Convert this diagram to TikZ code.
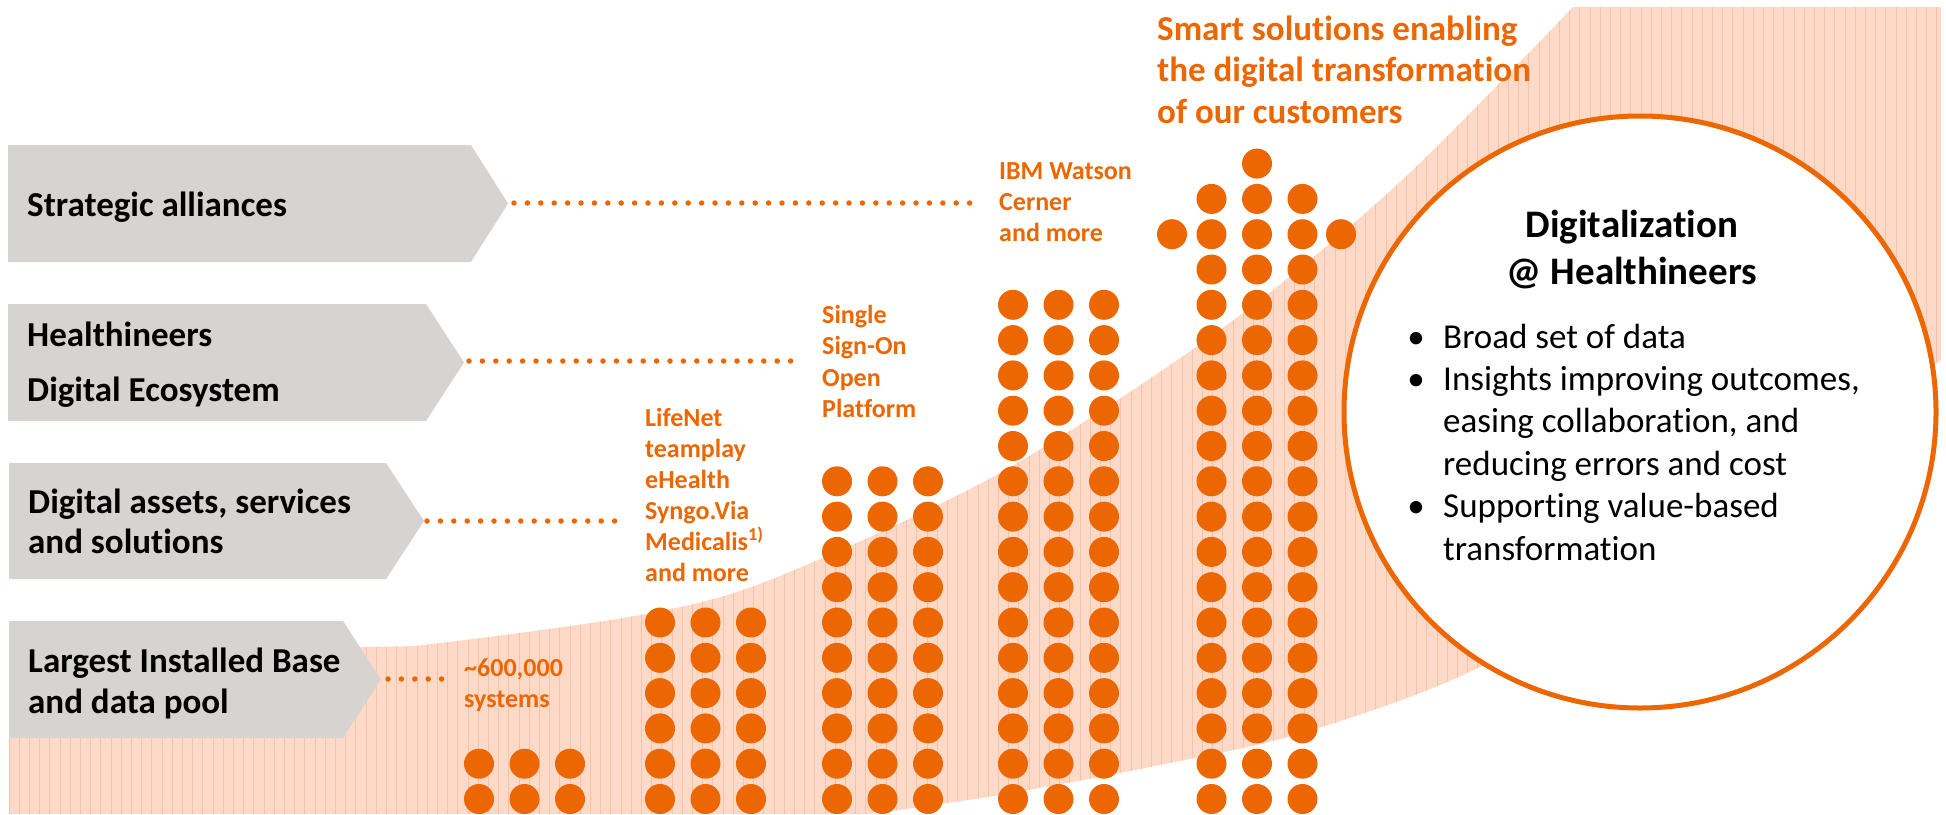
\documentclass[tikz,border=0pt]{standalone}
\usepackage{fontspec}
\setmainfont[Ligatures=NoCommon,Contextuals=NoAlternate]{Carlito}
\definecolor{hOrange}{HTML}{EC6602}
\definecolor{boxGray}{HTML}{D7D3D0}
\definecolor{bandFill}{HTML}{FCDAC7}
\definecolor{bandLine}{HTML}{F7C3A6}
\begin{document}
\begin{tikzpicture}[x=1pt,y=-1pt,
  boxtxt/.style={font=\fontsize{35}{42}\selectfont\bfseries, anchor=base west, inner sep=0pt, text=black},
  lbl/.style={font=\fontsize{26}{31}\selectfont\bfseries, anchor=base west, inner sep=0pt, text=hOrange},
  ttl/.style={font=\fontsize{35}{42}\selectfont\bfseries, anchor=base west, inner sep=0pt, text=hOrange},
  ctitle/.style={font=\fontsize{39}{47}\selectfont\bfseries, anchor=base, inner sep=0pt, text=black},
  ctext/.style={font=\fontsize{35}{42}\selectfont, anchor=base west, inner sep=0pt, text=black},
  cbul/.style={font=\fontsize{35}{42}\selectfont, anchor=base, inner sep=0pt, text=black},
  chevron/.style={fill=boxGray},
  dotln/.style={hOrange, line width=5.5pt, line cap=round, dash pattern=on 0pt off 13.4pt},
  bigdot/.style={fill=hOrange}]
\useasboundingbox (0,0) rectangle (1946,814);

% curved band
\begin{scope}
\path[clip] (9,814) -- plot[smooth] coordinates {(9,652) (365,647) (440,643) (640,615) (770,580) (1000,473) (1227,325) (1400,182) (1573,7)} -- (1941,7) -- (1941,360) -- plot[smooth] coordinates {(1941,360) (1700,535) (1480,667) (1302,733) (1150,767) (1000,795) (870,814)} -- cycle;
\fill[bandFill] (0,0) rectangle (1946,814);
\foreach \i in {0,...,190} \draw[bandLine, line width=1pt] ({9+10.2*\i},0) -- ({9+10.2*\i},814);
\end{scope}

% chevrons
\fill[chevron] (8,145) -- (471,145) -- (508,203.5) -- (471,262) -- (8,262) -- cycle;
\fill[chevron] (8,304) -- (426,304) -- (464,362.5) -- (426,421) -- (8,421) -- cycle;
\fill[chevron] (9,463) -- (386,463) -- (424,521) -- (386,579) -- (9,579) -- cycle;
\fill[chevron] (9,621) -- (343,621) -- (381,679.5) -- (343,738) -- (9,738) -- cycle;

\node[boxtxt] (t1) at (27,216) {Strategic alliances};
\node[boxtxt] (t2a) at (27,346) {Healthineers};
\node[boxtxt] (t2b) at (27,401) {Digital Ecosystem};
\node[boxtxt] (t3a) at (28,513) {Digital assets, services};
\node[boxtxt] (t3b) at (28,553) {and solutions};
\node[boxtxt] (t4a) at (28,672) {Largest Installed Base};
\node[boxtxt] (t4b) at (28,713) {and data pool};

% dotted connectors
\coordinate (a1) at (514,203);  \coordinate (b1) at (970,203);
\coordinate (a2) at (469,361);  \coordinate (b2) at (791,361);
\coordinate (a3) at (427,521);  \coordinate (b3) at (615,521);
\coordinate (a4) at (388,679);  \coordinate (b4) at (442,679);
\draw[dotln] (a1) -- (b1);
\draw[dotln] (a2) -- (b2);
\draw[dotln] (a3) -- (b3);
\draw[dotln] (a4) -- (b4);

% orange labels
\node[lbl] (s1) at (464,676) {\textasciitilde600,000};
\node[lbl] (s2) at (464,707) {systems};
\foreach \t [count=\i from 0] in {LifeNet, teamplay, eHealth, Syngo.Via, Medicalis\textsuperscript{1)}, and more}
  \node[lbl] (life\i) at (645,{426+31*\i}) {\t};
\foreach \t [count=\i from 0] in {Single, Sign-On, Open, Platform}
  \node[lbl] (sso\i) at (822,{323+31.5*\i}) {\t};
\foreach \t [count=\i from 0] in {IBM Watson, Cerner, and more}
  \node[lbl] (ibm\i) at (999,{179+31*\i}) {\t};
\foreach \t [count=\i from 0] in {Smart solutions enabling, the digital transformation, of our customers}
  \node[ttl] (smart\i) at (1157,{40+41.5*\i}) {\t};

% dot columns
\foreach \x in {479,524.5,570} \foreach \k in {0,1} \fill[bigdot] (\x,{799-35.3*\k}) circle (15pt);
\foreach \x in {660,705.5,751} \foreach \k in {0,...,5} \fill[bigdot] (\x,{799-35.3*\k}) circle (15pt);
\foreach \x in {837,882.5,928} \foreach \k in {0,...,9} \fill[bigdot] (\x,{799-35.3*\k}) circle (15pt);
\foreach \x in {1013,1058.5,1104} \foreach \k in {0,...,14} \fill[bigdot] (\x,{799-35.3*\k}) circle (15pt);
\foreach \x in {1211.5,1302.5} \foreach \k in {0,...,17} \fill[bigdot] (\x,{799-35.3*\k}) circle (15pt);
\foreach \k in {0,...,18} \fill[bigdot] (1257,{799-35.3*\k}) circle (15pt);
\fill[bigdot] (1172,{799-35.3*16}) circle (15pt);
\fill[bigdot] (1341,{799-35.3*16}) circle (15pt);

% circle
\node[circle, draw=hOrange, line width=5pt, fill=white, minimum size=592pt, inner sep=0pt] (circ) at (1640,412) {};
\node[ctitle] (c1) at (1632,237) {Digitalization};
\node[ctitle] (c2) at (1632,284) {@ Healthineers};
\node[cbul] (bu0) at (1416,348) {\textbullet};
\node[cbul] (bu1) at (1416,390.4) {\textbullet};
\node[cbul] (bu4) at (1416,517.6) {\textbullet};
\foreach \t [count=\i from 0] in {Broad set of data, {Insights improving outcomes,}, {easing collaboration, and}, reducing errors and cost, Supporting value-based, transformation}
  \node[ctext] (ct\i) at (1443,{348+42.4*\i}) {\t};
\end{tikzpicture}
\end{document}
